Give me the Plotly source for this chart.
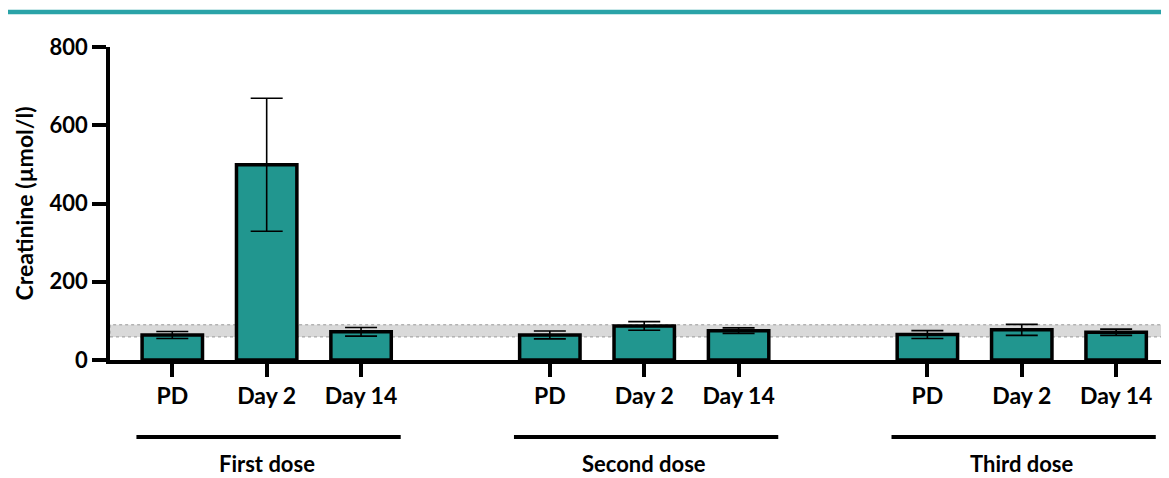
import plotly.graph_objects as go

# Data
x_pos = [0, 1, 2, 4, 5, 6, 8, 9, 10]
tick_labels = ["PD", "Day 2", "Day 14", "PD", "Day 2", "Day 14", "PD", "Day 2", "Day 14"]
creatinine = [64, 499, 72, 64, 87, 75, 65, 77, 71]
sem = [9, 170, 11, 10, 11, 7, 10, 14, 8]
groups = ["First dose", "Second dose", "Third dose"]
group_positions = [[0, 1, 2], [4, 5, 6], [8, 9, 10]]
ref_low, ref_high = 59, 90

TEAL = "#21968f"
FONT = "Lato"

fig = go.Figure()
fig.add_trace(go.Bar(
    x=x_pos, y=creatinine, width=0.64,
    marker=dict(color=TEAL, line=dict(color="black", width=3.5)),
    error_y=dict(type="data", array=sem, visible=True, color="black", thickness=1.6, width=16),
    showlegend=False,
))

# reference band
fig.add_shape(type="rect", xref="x", yref="y", x0=-0.66, x1=10.56, y0=ref_low, y1=ref_high,
              fillcolor="#d9d9d9", line=dict(color="#999999", width=1, dash="dot"), layer="below")

# group lines and labels
for name, pos in zip(groups, group_positions):
    fig.add_shape(type="line", xref="x", yref="paper", x0=pos[0] - 0.38, x1=pos[-1] + 0.42,
                  y0=-0.246, y1=-0.246, line=dict(color="black", width=4))
    fig.add_annotation(x=(pos[0] + pos[-1]) / 2, y=-0.33, xref="x", yref="paper", text=name,
                       yanchor="middle", showarrow=False,
                       font=dict(family=FONT, size=22, color="black", weight=700))

# top teal line
fig.add_shape(type="line", xref="paper", yref="paper", x0=-0.097, x1=1.0, y0=1.112, y1=1.112,
              line=dict(color="#2aa3a8", width=4.5))

fig.update_layout(
    width=1161, height=470,
    margin=dict(l=102, r=0, t=39, b=118),
    plot_bgcolor="white", paper_bgcolor="white",
    xaxis=dict(range=[-0.66, 10.56], tickmode="array", tickvals=x_pos, ticktext=tick_labels,
               showline=True, linecolor="black", linewidth=3.5, ticks="outside", ticklen=13,
               tickwidth=3.5, tickcolor="black", showgrid=False, zeroline=False,
               tickfont=dict(family=FONT, size=23, color="black", weight=700)),
    yaxis=dict(range=[0, 800], tickvals=[0, 200, 400, 600, 800], showline=True, linecolor="black",
               linewidth=3.5, ticks="outside", ticklen=14, tickwidth=3.5, tickcolor="black",
               showgrid=False, zeroline=False,
               tickfont=dict(family=FONT, size=22, color="black", weight=700),
               title=dict(text="Creatinine (µmol/l)", standoff=11,
                          font=dict(family=FONT, size=23, color="black", weight=700))),
)

fig.write_html("out.html")
